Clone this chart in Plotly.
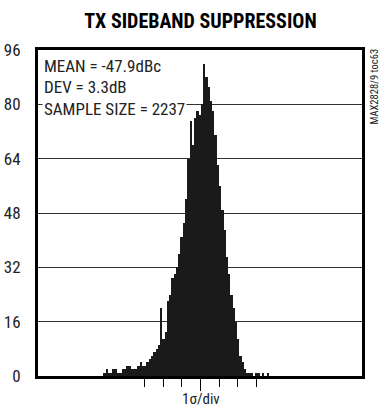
import plotly.graph_objects as go

# Histogram bin centres (dBc) and counts
bin_centers = [
    -64.85, -64.45, -64.05, -63.65, -63.25, -62.85, -62.45, -62.05, -61.65, -61.25,
    -60.85, -60.45, -60.05, -59.65, -59.25, -58.85, -58.45, -58.05, -57.65, -57.25,
    -56.85, -56.45, -56.05, -55.65, -55.25, -54.85, -54.45, -54.05, -53.65, -53.25,
    -52.85, -52.45, -52.05, -51.65, -51.25, -50.85, -50.45, -50.05, -49.65, -49.25,
    -48.85, -48.45, -48.05, -47.65, -47.25, -46.85, -46.45, -46.05, -45.65, -45.25,
    -44.85, -44.45, -44.05, -43.65, -43.25, -42.85, -42.45, -42.05, -41.65, -41.25,
    -40.85, -40.45, -40.05, -39.65, -39.25, -38.85, -38.45, -38.05, -37.65, -37.25,
    -36.85, -36.45, -36.05,
]
counts = [
    1, 2, 1, 1, 2, 2, 1, 1, 2, 2,
    3, 3, 2, 2, 2, 3, 4, 3, 3, 4,
    5, 6, 7, 8, 9, 20, 11, 13, 22, 24,
    29, 30, 32, 36, 41, 45, 52, 64, 75, 68,
    76, 78, 77, 80, 92, 88, 85, 81, 78, 71,
    62, 56, 49, 43, 35, 30, 24, 20, 16, 11,
    6, 4, 2, 1, 1, 1, 0, 1, 1, 0,
    1, 0, 1,
]
bin_width = 0.4

mean_db = -47.9
sigma_db = 3.3
x_range = [-76.6, -19.4]
y_ticks = [0, 16, 32, 48, 64, 80, 96]
sigma_ticks = [mean_db + k * sigma_db for k in (-3, -2, -1, 1, 2, 3)]

title_text = "TX SIDEBAND SUPPRESSION"
stats_lines = ["MEAN = -47.9dBc", "DEV = 3.3dB", "SAMPLE SIZE = 2237"]
side_label = "MAX2828/9 toc63"
x_title = "1σ/div"

narrow = "Liberation Sans Narrow, Arial Narrow, Roboto Condensed, DejaVu Sans Condensed, Liberation Sans, Arial, sans-serif"

fig = go.Figure()
fig.add_trace(go.Bar(
    x=bin_centers, y=counts, width=bin_width,
    marker=dict(color="#1a1a1a", line=dict(width=0)),
    hoverinfo="skip",
))

fig.update_layout(
    width=384, height=408,
    margin=dict(l=38, r=22, t=50, b=32, autoexpand=False),
    paper_bgcolor="white", plot_bgcolor="white",
    showlegend=False, bargap=0,
    title=dict(text="<b>" + title_text + "</b>", x=0.522, xanchor="center", y=0.9485, yanchor="middle",
               font=dict(family=narrow, size=20, color="black")),
    font=dict(family=narrow, color="#222"),
)

fig.update_xaxes(
    range=x_range, showgrid=False, zeroline=False, automargin=False,
    showline=True, linecolor="black", linewidth=3, mirror=True,
    tickmode="array", tickvals=[mean_db], ticktext=[""],
    ticks="outside", ticklen=12, tickwidth=1, tickcolor="black",
    minor=dict(tickmode="array", tickvals=sigma_ticks, ticks="outside", ticklen=8, tickwidth=1, tickcolor="black", showgrid=False),
)
fig.update_yaxes(
    range=[0, 96], tickmode="array", tickvals=y_ticks, automargin=False,
    showgrid=True, gridcolor="#333", gridwidth=1, zeroline=False,
    showline=True, linecolor="black", linewidth=3, mirror=True,
    ticks="", tickfont=dict(size=17, color="#222"), ticklabelstandoff=11,
)

for i, line in enumerate(stats_lines):
    fig.add_annotation(
        x=0.0, xref="paper", y=[0.951, 0.886, 0.819][i], yref="paper",
        xanchor="left", yanchor="middle", xshift=4,
        text=line, showarrow=False, bgcolor="white",
        font=dict(family=narrow, size=17, color="#222"),
    )

fig.add_annotation(
    x=(mean_db - x_range[0]) / (x_range[1] - x_range[0]), xref="paper", y=0, yref="paper",
    xanchor="center", yanchor="top", yshift=-12,
    text=x_title, showarrow=False,
    font=dict(family=narrow, size=15, color="#222"),
)

fig.add_annotation(
    x=1.0, xref="paper", y=1.0, yref="paper", xanchor="left", yanchor="top",
    xshift=3, yshift=3, text=side_label, textangle=-90, showarrow=False,
    font=dict(family=narrow, size=10.5, color="#222"),
)

fig.write_html("out.html", config={"displayModeBar": False},
               post_script="document.body.style.margin='0';")
